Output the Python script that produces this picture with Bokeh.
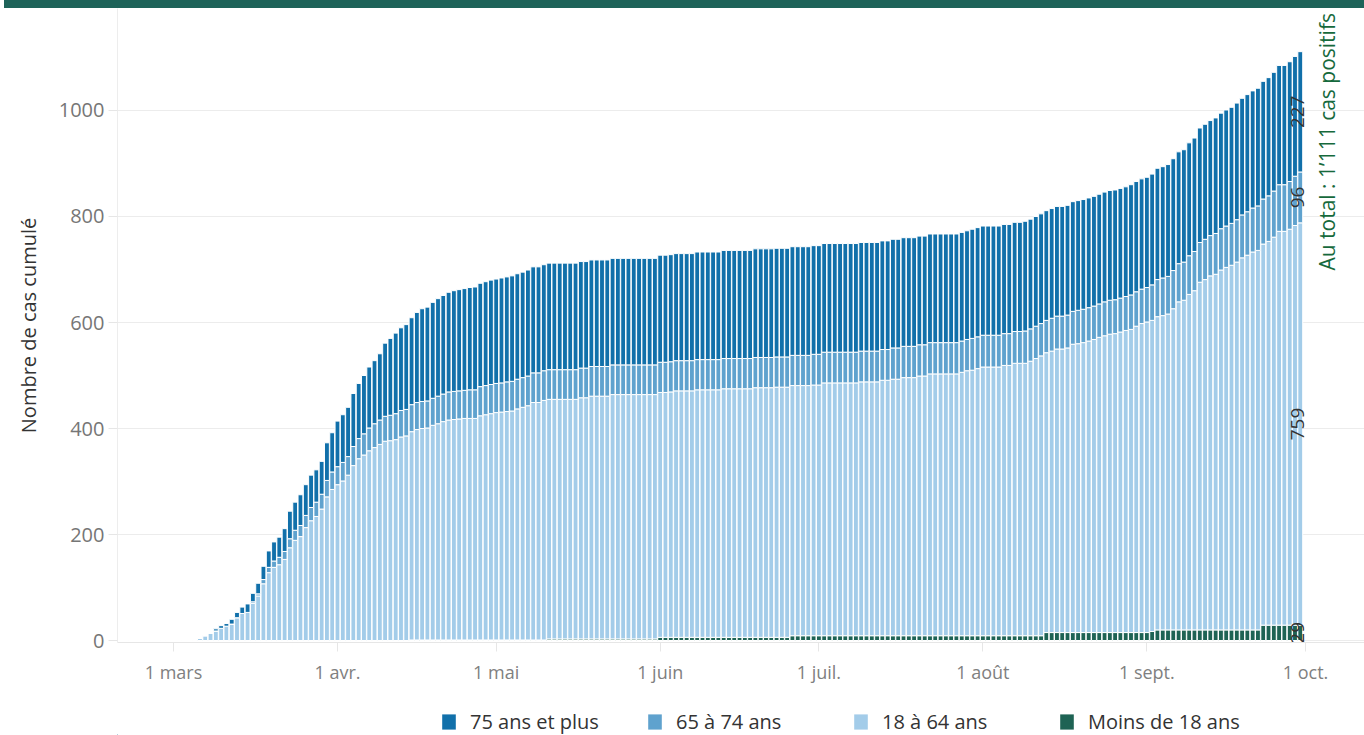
import math
import pandas as pd
from bokeh.plotting import figure
from bokeh.layouts import column
from bokeh.models import (Range1d, FixedTicker, Label, Legend, LegendItem,
                          ColumnDataSource, Div)
from bokeh.core.properties import value
from bokeh.embed import file_html
from bokeh.resources import INLINE

# ---------------- data (cumulative cases per age group, one value per day) -------------
start_date = "2020-02-20"

moins_18 = [
    0, 0, 0, 0, 0, 0, 0, 0, 0, 0,                                   # fév.
    0, 0, 0, 0, 0, 0, 0, 0, 0, 0, 0, 0, 0, 0, 0, 0, 0, 0, 0, 0,
    0, 0, 0, 0, 0, 0, 0, 0, 0, 0, 0,                                # mars
    0, 0, 0, 0, 0, 0, 0, 0, 0, 0, 0, 0, 0, 0, 1, 1, 1, 1, 1, 1,
    1, 1, 1, 1, 1, 1, 1, 1, 1, 1,                                   # avr.
    1, 1, 1, 1, 1, 1, 1, 1, 1, 1, 3, 3, 3, 3, 3, 3, 3, 3, 3, 3,
    3, 3, 3, 3, 3, 3, 3, 3, 3, 3, 3,                                # mai
    6, 6, 6, 6, 6, 6, 6, 6, 6, 6, 6, 6, 6, 6, 6, 6, 6, 6, 6, 6,
    6, 6, 6, 6, 6, 9, 9, 9, 9, 9,                                   # juin
    9, 9, 9, 9, 9, 9, 9, 9, 9, 9, 9, 9, 9, 9, 9, 9, 9, 9, 9, 9,
    9, 9, 9, 9, 9, 9, 9, 9, 9, 9, 9,                                # juil.
    9, 9, 9, 9, 9, 9, 9, 9, 9, 9, 9, 9, 15, 15, 15, 15, 15, 15, 15, 15,
    15, 15, 15, 15, 15, 15, 15, 15, 15, 15, 15,                     # août
    15, 17, 20, 20, 20, 20, 20, 20, 20, 20, 20, 20, 20, 20, 20, 20, 20, 20, 20, 20,
    20, 20, 29, 29, 29, 29, 29, 29, 29, 29,                         # sept.
]

ans_18_64 = [
    0, 0, 0, 0, 0, 0, 0, 0, 0, 0,
    0, 0, 0, 0, 1, 4, 9, 14, 18, 23, 27, 31, 43, 51, 53, 70, 84, 107, 128, 138,
    143, 153, 175, 189, 196, 213, 226, 234, 248, 271, 285,
    294, 301, 312, 330, 343, 350, 358, 364, 370, 376, 377, 379, 384, 386, 393, 397, 399, 400, 405, 408,
    412, 415, 416, 417, 418, 418, 418, 423, 425, 427,
    429, 430, 431, 432, 436, 439, 442, 448, 448, 452, 452, 452, 452, 452, 452, 452, 455, 455, 458, 458,
    458, 458, 461, 461, 461, 461, 461, 461, 461, 461, 461,
    462, 462, 463, 465, 465, 465, 465, 467, 467, 467, 467, 467, 469, 469, 469, 469, 469, 469, 471, 471,
    471, 471, 472, 472, 472, 472, 472, 472, 472, 473,
    473, 477, 477, 477, 477, 477, 477, 477, 479, 479, 479, 479, 482, 482, 484, 484, 487, 487, 487, 490,
    490, 494, 494, 494, 494, 494, 494, 497, 500, 501, 504,
    507, 507, 507, 507, 510, 510, 514, 514, 514, 518, 523, 528, 528, 531, 535, 535, 537, 544, 545, 547,
    550, 553, 557, 560, 563, 564, 567, 570, 572, 578, 583,
    586, 587, 591, 593, 596, 606, 619, 622, 633, 640, 656, 661, 668, 671, 679, 684, 688, 694, 702, 707,
    713, 716, 719, 724, 732, 743, 743, 747, 754, 759,
]

ans_65_74 = [
    0, 0, 0, 0, 0, 0, 0, 0, 0, 0,
    0, 0, 0, 0, 0, 0, 0, 0, 0, 0, 0, 0, 0, 0, 0, 3, 4, 8, 10, 12,
    14, 15, 17, 19, 21, 23, 25, 27, 28, 31, 33,
    34, 35, 35, 36, 38, 40, 43, 45, 46, 47, 48, 49, 50, 50, 51, 51, 51, 51, 51, 52,
    52, 53, 53, 53, 53, 54, 54, 55, 55, 55,
    55, 55, 56, 56, 56, 56, 56, 56, 56, 56, 56, 56, 56, 56, 56, 56, 56, 56, 56, 56,
    56, 56, 56, 56, 56, 56, 56, 56, 56, 56, 56,
    57, 57, 57, 57, 57, 57, 57, 57, 57, 57, 57, 57, 57, 57, 57, 57, 57, 57, 57, 57,
    57, 57, 57, 57, 57, 57, 57, 57, 57, 58,
    58, 58, 58, 58, 58, 58, 58, 58, 58, 58, 58, 58, 58, 58, 59, 59, 59, 59, 59, 59,
    59, 59, 59, 59, 59, 59, 59, 59, 59, 60, 60,
    60, 60, 60, 60, 60, 60, 60, 60, 61, 61, 61, 61, 61, 62, 62, 62, 62, 62, 63, 63,
    63, 63, 63, 64, 64, 64, 64, 64, 65, 65, 65,
    65, 67, 70, 71, 71, 72, 72, 72, 73, 74, 75, 76, 76, 77, 78, 78, 79, 80, 81, 82,
    83, 84, 85, 86, 87, 88, 88, 90, 93, 96,
]

ans_75_plus = [
    0, 0, 0, 0, 0, 0, 0, 0, 0, 0,
    0, 0, 0, 0, 0, 0, 0, 0, 4, 5, 5, 9, 10, 12, 16, 16, 20, 25, 31, 36,
    38, 43, 52, 53, 58, 58, 61, 61, 62, 71, 74,
    86, 90, 93, 100, 104, 110, 115, 119, 125, 138, 145, 152, 156, 160, 164, 170, 175, 177, 181, 184,
    186, 188, 190, 191, 192, 193, 194, 195, 196, 197,
    197, 198, 198, 199, 199, 199, 200, 200, 200, 200, 201, 201, 201, 201, 201, 201, 201, 201, 201, 201,
    201, 201, 201, 201, 201, 201, 201, 201, 201, 201, 201,
    202, 202, 202, 202, 202, 202, 202, 203, 203, 203, 203, 203, 204, 204, 204, 204, 204, 204, 205, 205,
    205, 205, 205, 205, 205, 205, 205, 205, 205, 205,
    205, 205, 205, 205, 205, 205, 205, 205, 205, 205, 205, 205, 205, 205, 205, 205, 205, 205, 205, 205,
    205, 205, 205, 205, 205, 205, 205, 205, 205, 206, 206,
    206, 206, 206, 206, 206, 206, 206, 206, 207, 207, 207, 207, 207, 207, 207, 207, 207, 207, 207, 207,
    207, 207, 207, 207, 207, 207, 207, 207, 208, 208, 208,
    208, 209, 210, 210, 211, 211, 211, 212, 213, 214, 216, 217, 217, 218, 218, 219, 219, 220, 220, 221,
    221, 222, 222, 223, 224, 225, 225, 226, 226, 227,
]

groups = ["Moins de 18 ans", "18 à 64 ans", "65 à 74 ans", "75 ans et plus"]
colors = ["#1e6354", "#a3cce9", "#5fa2ce", "#1170aa"]
tick_dates = ["2020-03-01", "2020-04-01", "2020-05-01", "2020-06-01",
              "2020-07-01", "2020-08-01", "2020-09-01", "2020-10-01"]
tick_labels = ["1 mars", "1 avr.", "1 mai", "1 juin", "1 juil.", "1 août", "1 sept.", "1 oct."]
y_ticks = [0, 200, 400, 600, 800, 1000]
y_title = "Nombre de cas cumulé"
total_text = "Au total : 1\u2019111 cas positifs"

# ---------------- build ----------------
origin = pd.Timestamp("2020-03-01")
dates = pd.date_range(start_date, periods=len(moins_18), freq="D")
xs = [(d - origin).days for d in dates]
tick_pos = [(pd.Timestamp(t) - origin).days for t in tick_dates]

cols = ["g", "l", "m", "d"]
source = ColumnDataSource(dict(x=xs, g=moins_18, l=ans_18_64, m=ans_65_74, d=ans_75_plus))

FONT = "Open Sans"
BAND = "#1e6359"

# top band
band = Div(text="", width=1360, height=8, margin=(0, 0, 0, 4),
           styles={"background-color": BAND})

# main chart
p = figure(width=1364, height=692,
           x_range=Range1d(-10.59, 225.14), y_range=Range1d(-3.77, 1192.45),
           output_backend="svg", toolbar_location=None,
           min_border_left=117, min_border_right=0, min_border_top=0, min_border_bottom=58)
p.outline_line_color = None
p.background_fill_color = "white"
p.border_fill_color = "white"

rs = p.vbar_stack(cols, x="x", width=0.92, source=source,
                  fill_color=colors, line_color="white", line_width=1)

p.xgrid.visible = False
p.ygrid.grid_line_color = "#ececec"
p.ygrid.grid_line_width = 1

ya = p.yaxis[0]
ya.ticker = FixedTicker(ticks=y_ticks)
ya.axis_line_color = "#ededed"
ya.major_tick_line_color = "#e6e6e6"
ya.major_tick_out = 9
ya.major_tick_in = 0
ya.minor_tick_line_color = None
ya.major_label_text_color = "#767676"
ya.major_label_text_font = FONT
ya.major_label_text_font_size = "20px"
ya.major_label_standoff = 4
ya.axis_label = y_title
ya.axis_label_text_font = FONT
ya.axis_label_text_font_size = "20px"
ya.axis_label_text_font_style = "normal"
ya.axis_label_text_color = "#333333"
ya.axis_label_standoff = 14

xa = p.xaxis[0]
xa.ticker = FixedTicker(ticks=tick_pos)
xa.major_label_overrides = {k: v for k, v in zip(tick_pos, tick_labels)}
xa.axis_line_color = "#e6e6e6"
xa.major_tick_line_color = "#e6e6e6"
xa.major_tick_out = 9
xa.major_tick_in = 0
xa.minor_tick_line_color = None
xa.major_label_text_color = "#808080"
xa.major_label_text_font = FONT
xa.major_label_text_font_size = "18px"
xa.major_label_standoff = 8

# value labels on the last bar (segment centres)
last = [moins_18[-1], ans_18_64[-1], ans_65_74[-1], ans_75_plus[-1]]
centres, acc = [], 0
for v in last:
    centres.append(acc + v / 2)
    acc += v
lab_src = ColumnDataSource(dict(x=[xs[-1]] * 4, y=centres, t=[str(v) for v in last]))
p.text(x="x", y="y", text="t", source=lab_src, angle=math.pi / 2,
       text_align="center", text_baseline="middle", x_offset=-3,
       text_font=value(FONT), text_font_size="19px", text_color="#333333")

# vertical total title on the right
p.add_layout(Label(x=218.1, y=941, text=total_text, angle=math.pi / 2,
                   text_align="center", text_baseline="middle",
                   text_font=FONT, text_font_size="21px", text_color="#16693c"))

# legend strip (own small plot; its frame is aligned with the main frame)
lg = figure(width=1364, height=35, x_range=Range1d(0, 1247), y_range=Range1d(0, 35),
            output_backend="svg", toolbar_location=None, x_axis_type=None, y_axis_type=None,
            min_border=0)
lg.outline_line_color = None
lg.grid.visible = False
# swatch renderers for the legend keys (one point placed outside the visible range)
swatches = [lg.vbar(x=[-100], top=[1], width=1, fill_color=c, line_color=None) for c in colors]
items = [LegendItem(label=value(groups[i]), renderers=[swatches[i]]) for i in (3, 2, 1, 0)]
legend = Legend(items=items, orientation="horizontal", location=(323, 0),
                glyph_width=17, glyph_height=19, label_standoff=13, label_width=176,
                spacing=0, padding=0, margin=0, border_line_color=None,
                background_fill_alpha=0, label_text_font=FONT,
                label_text_font_size="20px", label_text_color="#333333")
lg.add_layout(legend, "center")

layout = column(band, p, lg, spacing=0)
open("out.html", "w").write(file_html(layout, INLINE))
